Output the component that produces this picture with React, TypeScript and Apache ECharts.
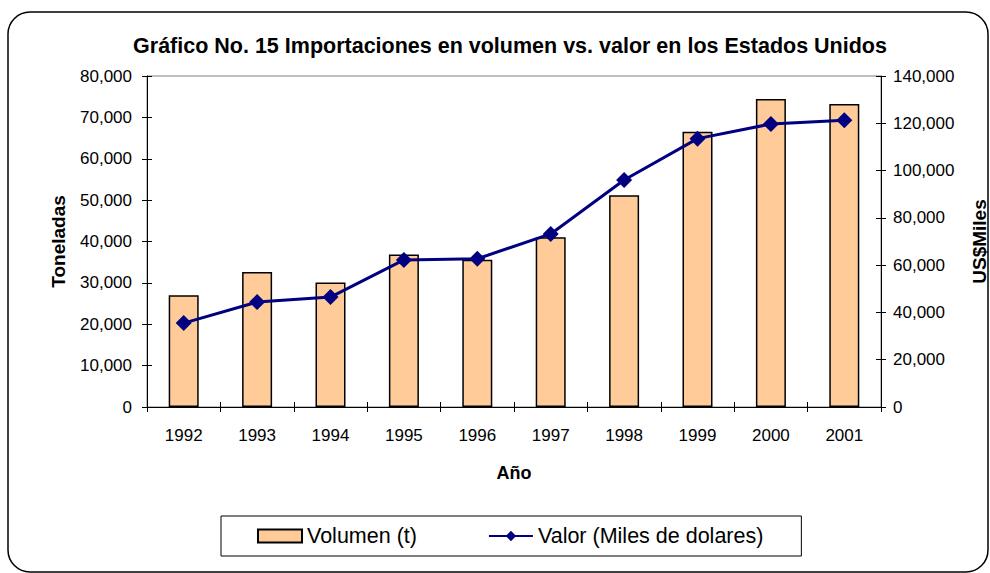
import React, { useEffect, useRef } from "react";
import * as echarts from "echarts";

const years = ["1992", "1993", "1994", "1995", "1996", "1997", "1998", "1999", "2000", "2001"];
const volumen = [27000, 32600, 30100, 36850, 35600, 41050, 51200, 66500, 74450, 73250];
const valor = [35500, 44400, 46500, 62200, 62700, 73200, 96000, 113500, 119700, 121300];

const titleText = "Gráfico No. 15 Importaciones en volumen vs. valor en los Estados Unidos";
const volName = "Volumen (t)";
const valName = "Valor (Miles de dolares)";

const fmt = (v: number) => v.toLocaleString("en-US");
const FONT = "Liberation Sans, Arial, sans-serif";

export default function App() {
  const ref = useRef<HTMLDivElement>(null);
  useEffect(() => {
    if (!ref.current) return;
    const chart = echarts.init(ref.current, undefined, { renderer: "svg" });
    const grid = { left: 147, right: 109, top: 76, bottom: 166 };
    const hiddenY = (pos: string, max: number, interval: number) => ({
      type: "value",
      position: pos,
      min: 0,
      max,
      interval,
      axisLine: { show: false },
      axisLabel: { show: false },
      splitLine: { show: false },
      axisTick: { show: true, inside: true, length: 5, lineStyle: { color: "#000" } },
    });
    chart.setOption({
      animation: false,
      textStyle: { fontFamily: FONT },
      title: {
        text: titleText,
        left: 505,
        top: 30,
        textAlign: "center",
        textStyle: { fontSize: 21.5, fontWeight: "bold", color: "#000", fontFamily: FONT },
      },
      grid: {
        ...grid,
        containLabel: false,
        outerBoundsMode: "none",
        show: true,
        borderColor: "#808080",
        borderWidth: 1,
      },
      legend: {
        left: 221,
        top: 516,
        orient: "horizontal",
        borderColor: "#000",
        borderWidth: 1,
        padding: [9, 38, 9, 36],
        itemGap: 71,
        itemWidth: 44,
        itemHeight: 13,
        textStyle: { fontSize: 21.5, color: "#000", fontFamily: FONT },
        data: [
          { name: volName, icon: "rect" },
          { name: valName },
        ],
      },
      xAxis: [
        {
          type: "category",
          data: years,
          position: "bottom",
          name: "Año",
          nameLocation: "middle",
          nameGap: 57,
          nameTextStyle: { fontSize: 18, fontWeight: "bold", color: "#000", fontFamily: FONT },
          axisLine: { show: true, lineStyle: { color: "#000", width: 1 } },
          axisTick: { show: true, length: 5, lineStyle: { color: "#000" } },
          axisLabel: { fontSize: 17, color: "#000", margin: 20, fontFamily: FONT },
          splitLine: { show: false },
        },
        {
          type: "category",
          data: years,
          position: "bottom",
          axisLine: { show: false },
          axisLabel: { show: false },
          axisTick: { show: true, inside: true, length: 5, lineStyle: { color: "#000" } },
          splitLine: { show: false },
        },
      ],
      yAxis: [
        {
          type: "value",
          position: "left",
          min: 0,
          max: 80000,
          interval: 10000,
          name: "Toneladas",
          nameLocation: "middle",
          nameRotate: 90,
          nameGap: 79,
          nameTextStyle: { fontSize: 19, fontWeight: "bold", color: "#000", fontFamily: FONT },
          axisLine: { show: true, lineStyle: { color: "#000", width: 1 } },
          axisTick: { show: true, length: 5, lineStyle: { color: "#000" } },
          axisLabel: { fontSize: 17, color: "#000", margin: 15, formatter: fmt, fontFamily: FONT },
          splitLine: { show: false },
        },
        {
          type: "value",
          position: "right",
          min: 0,
          max: 140000,
          interval: 20000,
          name: "US$Miles",
          nameLocation: "middle",
          nameRotate: 90,
          nameGap: 89,
          nameTextStyle: { fontSize: 19, fontWeight: "bold", color: "#000", fontFamily: FONT },
          axisLine: { show: true, lineStyle: { color: "#000", width: 1 } },
          axisTick: { show: true, length: 5, lineStyle: { color: "#000" } },
          axisLabel: { fontSize: 17, color: "#000", margin: 12, formatter: fmt, fontFamily: FONT },
          splitLine: { show: false },
        },
        hiddenY("left", 80000, 10000),
        hiddenY("right", 140000, 20000),
      ],
      series: [
        {
          name: volName,
          type: "bar",
          data: volumen,
          xAxisIndex: 0,
          yAxisIndex: 0,
          barWidth: 30,
          itemStyle: { color: "#FFCC99", borderColor: "#000", borderWidth: 1.5 },
        },
        {
          name: valName,
          type: "line",
          data: valor,
          xAxisIndex: 0,
          yAxisIndex: 1,
          symbol: "diamond",
          symbolSize: 16,
          lineStyle: { color: "#000080", width: 3 },
          itemStyle: { color: "#000080" },
        },
      ],
      graphic: [
        {
          type: "rect",
          shape: { x: 8, y: 12, width: 980, height: 560, r: 22 },
          style: { fill: "none", stroke: "#000", lineWidth: 1.5 },
          silent: true,
          z: -1,
        },
      ],
    });
    return () => chart.dispose();
  }, []);
  return (
    <div
      ref={ref}
      style={{ position: "fixed", left: 0, top: 0, width: 990, height: 573, background: "#fff" }}
    />
  );
}
